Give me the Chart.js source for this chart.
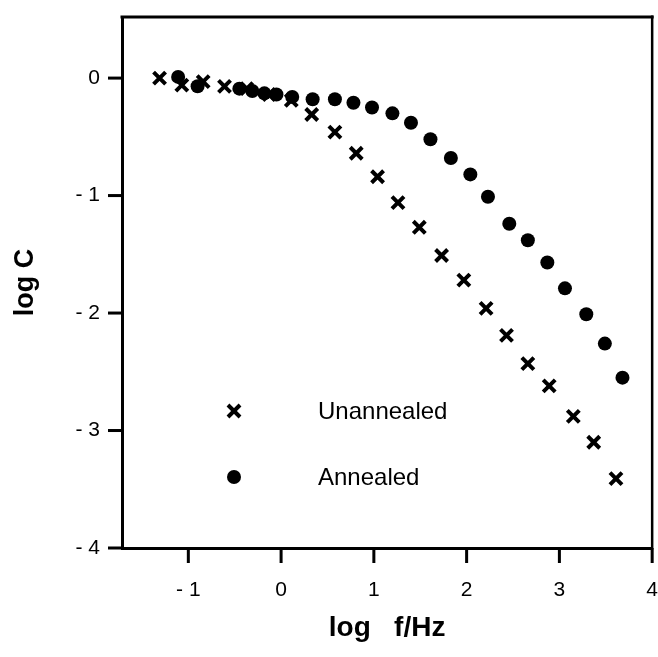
<!DOCTYPE html>
<html>
<head>
<meta charset="utf-8">
<script src="https://cdn.jsdelivr.net/npm/chart.js@4.4.1/dist/chart.umd.min.js"></script>
<style>
	html, body { margin: 0; padding: 0; background: #fff; }
	canvas { display: block; }
</style>
</head>
<body>
<canvas id="myChart" width="658" height="657"></canvas>
<script>
// values (log f/Hz, log C)
const unannealedX = [-1.31, -1.07, -0.84, -0.61, -0.37, -0.13, 0.11, 0.33, 0.58, 0.81, 1.04, 1.26, 1.49, 1.73, 1.97, 2.21, 2.43, 2.66, 2.89, 3.15, 3.37, 3.61]
const unannealedY = [0.00, -0.06, -0.03, -0.07, -0.09, -0.14, -0.19, -0.31, -0.46, -0.64, -0.84, -1.06, -1.27, -1.51, -1.72, -1.96, -2.19, -2.43, -2.62, -2.88, -3.10, -3.41]

const annealedX = [-1.11, -0.90, -0.45, -0.31, -0.18, -0.05, 0.12, 0.34, 0.58, 0.78, 0.98, 1.20, 1.40, 1.61, 1.83, 2.04, 2.23, 2.46, 2.66, 2.87, 3.06, 3.29, 3.49, 3.68]
const annealedY = [0.01, -0.07, -0.09, -0.11, -0.13, -0.14, -0.16, -0.18, -0.18, -0.21, -0.25, -0.30, -0.38, -0.52, -0.68, -0.82, -1.01, -1.24, -1.38, -1.57, -1.79, -2.01, -2.26, -2.55]

const xTickValues = [-1, 0, 1, 2, 3, 4]
const xTickLabels = ["- 1", "0", "1", "2", "3", "4"]
const yTickValues = [0, -1, -2, -3, -4]
const yTickLabels = ["0", "- 1", "- 2", "- 3", "- 4"]

const seriesNames = ["Unannealed", "Annealed"]

const FONT = "'Liberation Sans', Arial, sans-serif"

function toPoints(xs, ys) {
	return xs.map((x, i) => ({ x: x, y: ys[i] }))
}

const crossStyle = { pointStyle: "crossRot", radius: 8.5, borderWidth: 4 }
const dotStyle = { pointStyle: "circle", radius: 7, borderWidth: 0 }

// frame, outward tick marks and the in-plot legend
const framePlugin = {
	id: "frame",
	afterDraw(chart) {
		const ctx = chart.ctx
		const a = chart.chartArea
		const sx = chart.scales.x
		const sy = chart.scales.y
		ctx.save()
		ctx.fillStyle = "#000"
		// top and right edges of the box
		ctx.fillRect(a.left - 1.5, a.top - 1.5, a.right - a.left + 3, 3)
		ctx.fillRect(a.right - 1.25, a.top - 1.5, 2.5, a.bottom - a.top + 3)

		// tick marks pointing out of the box
		xTickValues.forEach(v => {
			const px = sx.getPixelForValue(v)
			ctx.fillRect(px - 1.5, a.bottom, 3, 15)
		})
		yTickValues.forEach(v => {
			const py = sy.getPixelForValue(v)
			ctx.fillRect(a.left - 14, py - 1.5, 14, 3)
		})

		const styles = [crossStyle, dotStyle]
		const mx = a.left + 112
		const tx = a.left + 196
		const rows = [a.top + 394, a.top + 460]
		ctx.strokeStyle = "#000"
		ctx.font = "24px " + FONT
		ctx.textBaseline = "middle"
		rows.forEach((y, i) => {
			ctx.lineWidth = styles[i].borderWidth
			Chart.helpers.drawPoint(ctx, {
				pointStyle: styles[i].pointStyle,
				radius: styles[i].radius,
				rotation: 0,
				borderWidth: styles[i].borderWidth
			}, mx, y)
			ctx.fillText(seriesNames[i], tx, y + 1)
		})
		ctx.restore()
	}
}

new Chart("myChart", {
	type: "scatter",
	data: {
		datasets: [
			{
				label: seriesNames[0],
				data: toPoints(unannealedX, unannealedY),
				borderColor: "#000",
				backgroundColor: "#000",
				pointStyle: crossStyle.pointStyle,
				pointRadius: crossStyle.radius,
				pointBorderWidth: crossStyle.borderWidth
			},
			{
				label: seriesNames[1],
				data: toPoints(annealedX, annealedY),
				borderColor: "#000",
				backgroundColor: "#000",
				pointStyle: dotStyle.pointStyle,
				pointRadius: dotStyle.radius,
				pointBorderWidth: dotStyle.borderWidth
			}
		]
	},
	options: {
		responsive: false,
		animation: false,
		layout: { autoPadding: false, padding: { top: 17, right: 5, left: 9, bottom: 12 } },
		plugins: {
			legend: { display: false },
			tooltip: { enabled: false }
		},
		scales: {
			x: {
				type: "linear",
				min: -1.715,
				max: 4,
				afterBuildTicks: (scale) => { scale.ticks = xTickValues.map(v => ({ value: v })) },
				afterFit: (scale) => { scale.height = 657 - 12 - 548 },
				border: { display: true, width: 3, color: "#000" },
				grid: { display: true, drawOnChartArea: false, drawTicks: true, tickLength: 30, tickWidth: 0, tickColor: "rgba(0,0,0,0)" },
				ticks: {
					color: "#000",
					padding: 0,
					maxRotation: 0,
					autoSkip: false,
					font: { family: FONT, size: 21 },
					callback: (v) => xTickLabels[xTickValues.indexOf(v)]
				},
				title: {
					display: true,
					text: "log   f/Hz",
					color: "#000",
					padding: 0,
					font: { family: FONT, size: 28, weight: "bold" }
				}
			},
			y: {
				type: "linear",
				min: -4,
				max: 0.52,
				afterBuildTicks: (scale) => { scale.ticks = yTickValues.map(v => ({ value: v })) },
				afterFit: (scale) => { scale.width = 122 - 9 },
				border: { display: true, width: 3, color: "#000" },
				grid: { display: true, drawOnChartArea: false, drawTicks: true, tickLength: 22, tickWidth: 0, tickColor: "rgba(0,0,0,0)" },
				ticks: {
					color: "#000",
					padding: 0,
					autoSkip: false,
					font: { family: FONT, size: 21 },
					callback: (v) => yTickLabels[yTickValues.indexOf(v)]
				},
				title: {
					display: true,
					text: "log C",
					color: "#000",
					padding: 0,
					font: { family: FONT, size: 27, weight: "bold" }
				}
			}
		}
	},
	plugins: [framePlugin]
})
</script>
</body>
</html>
